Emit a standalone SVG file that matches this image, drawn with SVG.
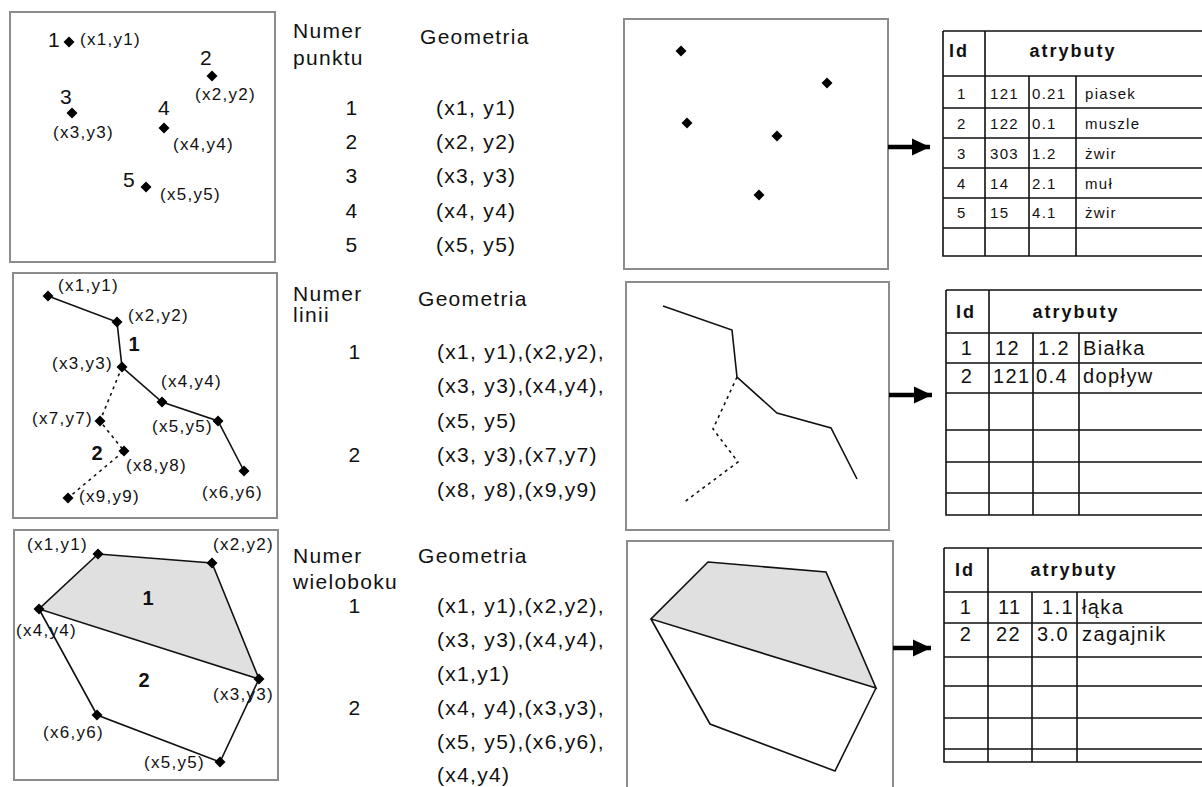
<svg xmlns="http://www.w3.org/2000/svg" width="1202" height="787" viewBox="0 0 1202 787">
<style>
text{font-family:"Liberation Sans",Arial,sans-serif;fill:#111}
.lb{font-size:17px;letter-spacing:1.3px}
.big{font-size:21px;letter-spacing:1.3px}
.bn{font-size:20px;font-weight:bold}
.t1{font-size:15px;letter-spacing:1.3px}
.t2{font-size:20px;letter-spacing:1.4px}
.hd{font-size:18px;font-weight:bold;letter-spacing:2px}
.mid{text-anchor:middle}
.panel{fill:#fff;stroke:#8c8c8c;stroke-width:2}
.ln{fill:none;stroke:#111;stroke-width:1.6;stroke-linejoin:miter}
.dash{fill:none;stroke:#111;stroke-width:1.6;stroke-dasharray:3 4}
.gray{fill:#e0e0e0;stroke:#111;stroke-width:1.6}
.tb{stroke:#111;stroke-width:1.6;fill:none}
.arr{stroke:#000;stroke-width:4.5;fill:none}
</style>
<defs>
<path id="pt" d="M0,-5.5 L5.5,0 L0,5.5 L-5.5,0 Z" fill="#000"/>
<marker id="ah" markerWidth="4" markerHeight="4" refX="3.2" refY="1.5" orient="auto" markerUnits="strokeWidth" viewBox="0 0 3.2 3">
<path d="M0,0 L3.2,1.5 L0,3 Z" fill="#000"/>
</marker>
</defs>
<rect width="1202" height="787" fill="#fff"/>

<g id="points-panel">
<rect class="panel" x="10" y="12" width="265" height="250"/>
<use href="#pt" x="69" y="42"/><use href="#pt" x="212" y="76"/><use href="#pt" x="72" y="113"/><use href="#pt" x="164" y="128"/><use href="#pt" x="146" y="187"/>
<text class="big" x="48" y="47">1</text><text class="lb" x="80" y="45">(x1,y1)</text>
<text class="big" x="200" y="65">2</text><text class="lb" x="195" y="100">(x2,y2)</text>
<text class="big" x="60" y="104">3</text><text class="lb" x="53" y="138">(x3,y3)</text>
<text class="big" x="158" y="115">4</text><text class="lb" x="173" y="150">(x4,y4)</text>
<text class="big" x="123" y="187">5</text><text class="lb" x="160" y="200">(x5,y5)</text>
</g>

<g id="lines-panel">
<rect class="panel" x="13" y="273" width="264" height="245"/>
<polyline class="ln" points="48,296 117,322 122,367 162,402 218,421 244,471"/>
<polyline class="dash" points="122,367 100,421 124,451 68,498"/>
<use href="#pt" x="48" y="296"/><use href="#pt" x="117" y="322"/><use href="#pt" x="122" y="367"/><use href="#pt" x="162" y="402"/><use href="#pt" x="218" y="421"/><use href="#pt" x="244" y="471"/><use href="#pt" x="100" y="421"/><use href="#pt" x="124" y="451"/><use href="#pt" x="68" y="498"/>
<text class="lb" x="58" y="291">(x1,y1)</text>
<text class="lb" x="128" y="321">(x2,y2)</text>
<text class="bn mid" x="134" y="351">1</text>
<text class="lb" x="52" y="369">(x3,y3)</text>
<text class="lb" x="161" y="387">(x4,y4)</text>
<text class="lb" x="32" y="424">(x7,y7)</text>
<text class="lb" x="152" y="432">(x5,y5)</text>
<text class="bn mid" x="97" y="460">2</text>
<text class="lb" x="126" y="471">(x8,y8)</text>
<text class="lb" x="202" y="498">(x6,y6)</text>
<text class="lb" x="79" y="502">(x9,y9)</text>
</g>

<g id="polygons-panel">
<rect class="panel" x="14" y="530" width="264" height="250"/>
<polygon class="gray" points="98,554 212,563 259,679 39,609"/>
<polyline class="ln" points="39,609 97,715 220,762 259,679"/>
<use href="#pt" x="98" y="554"/><use href="#pt" x="212" y="563"/><use href="#pt" x="39" y="609"/><use href="#pt" x="259" y="679"/><use href="#pt" x="97" y="715"/><use href="#pt" x="220" y="762"/>
<text class="lb" x="27" y="550">(x1,y1)</text>
<text class="lb" x="213" y="550">(x2,y2)</text>
<text class="bn mid" x="148" y="605">1</text>
<text class="lb" x="16" y="636">(x4,y4)</text>
<text class="bn mid" x="144" y="687">2</text>
<text class="lb" x="213" y="700">(x3,y3)</text>
<text class="lb" x="43" y="738">(x6,y6)</text>
<text class="lb" x="144" y="768">(x5,y5)</text>
</g>

<g id="points-text">
<text class="big" x="293" y="38">Numer</text>
<text class="big" x="293" y="65">punktu</text>
<text class="big" x="420" y="44">Geometria</text>
<text class="big mid" x="352" y="115">1</text><text class="big" x="436" y="115">(x1, y1)</text>
<text class="big mid" x="352" y="149">2</text><text class="big" x="436" y="149">(x2, y2)</text>
<text class="big mid" x="352" y="183">3</text><text class="big" x="436" y="183">(x3, y3)</text>
<text class="big mid" x="352" y="218">4</text><text class="big" x="436" y="218">(x4, y4)</text>
<text class="big mid" x="352" y="252">5</text><text class="big" x="436" y="252">(x5, y5)</text>
</g>

<g id="lines-text">
<text class="big" x="293" y="301">Numer</text>
<text class="big" x="293" y="322">linii</text>
<text class="big" x="418" y="306">Geometria</text>
<text class="big mid" x="355" y="359">1</text>
<text class="big" x="437" y="359">(x1, y1),(x2,y2),</text>
<text class="big" x="437" y="393">(x3, y3),(x4,y4),</text>
<text class="big" x="437" y="428">(x5, y5)</text>
<text class="big mid" x="355" y="462">2</text>
<text class="big" x="437" y="462">(x3, y3),(x7,y7)</text>
<text class="big" x="437" y="497">(x8, y8),(x9,y9)</text>
</g>

<g id="polygons-text">
<text class="big" x="293" y="563">Numer</text>
<text class="big" x="293" y="589">wieloboku</text>
<text class="big" x="418" y="563">Geometria</text>
<text class="big mid" x="355" y="613">1</text>
<text class="big" x="437" y="613">(x1, y1),(x2,y2),</text>
<text class="big" x="437" y="647">(x3, y3),(x4,y4),</text>
<text class="big" x="437" y="681">(x1,y1)</text>
<text class="big mid" x="355" y="715">2</text>
<text class="big" x="437" y="715">(x4, y4),(x3,y3),</text>
<text class="big" x="437" y="749">(x5, y5),(x6,y6),</text>
<text class="big" x="437" y="782">(x4,y4)</text>
</g>

<g id="points-map">
<rect class="panel" x="624" y="19" width="264" height="250"/>
<use href="#pt" x="681" y="51"/><use href="#pt" x="827" y="83"/><use href="#pt" x="687" y="123"/><use href="#pt" x="777" y="136"/><use href="#pt" x="759" y="195"/>
</g>

<g id="lines-map">
<rect class="panel" x="626" y="282" width="263" height="248"/>
<polyline class="ln" points="663,306 732,330 737,377 777,413 831,428 857,479"/>
<polyline class="dash" points="737,377 713,429 738,462 683,503"/>
</g>

<g id="polygons-map">
<rect class="panel" x="627" y="541" width="266" height="260"/>
<polygon class="gray" points="708,562 826,572 876,688 651,619"/>
<polyline class="ln" points="651,619 710,724 835,771 876,688"/>
</g>

<g id="points-table">
<path class="tb" d="M943,31 H1210 M943,31 V256 H1210 M985,31 V256 M1029,76 V256 M1076,76 V256 M943,76 H1210 M943,108 H1210 M943,138 H1210 M943,168 H1210 M943,198 H1210 M943,228 H1210"/>
<text class="hd" x="949" y="57">Id</text><text class="hd mid" x="1073" y="57">atrybuty</text>
<text class="t1" x="957" y="99">1</text><text class="t1" x="990" y="99">121</text><text class="t1" x="1032" y="99">0.21</text><text class="t1" x="1085" y="99">piasek</text>
<text class="t1" x="957" y="129">2</text><text class="t1" x="990" y="129">122</text><text class="t1" x="1032" y="129">0.1</text><text class="t1" x="1085" y="129">muszle</text>
<text class="t1" x="957" y="159">3</text><text class="t1" x="990" y="159">303</text><text class="t1" x="1032" y="159">1.2</text><text class="t1" x="1085" y="159">żwir</text>
<text class="t1" x="957" y="189">4</text><text class="t1" x="990" y="189">14</text><text class="t1" x="1032" y="189">2.1</text><text class="t1" x="1085" y="189">muł</text>
<text class="t1" x="957" y="218">5</text><text class="t1" x="990" y="218">15</text><text class="t1" x="1032" y="218">4.1</text><text class="t1" x="1085" y="218">żwir</text>
</g>

<g id="lines-table">
<path class="tb" d="M946,290 H1210 M946,290 V515 H1210 M989,290 V515 M1033,333 V515 M1079,333 V515 M946,333 H1210 M946,363 H1210 M946,393 H1210 M946,430 H1210 M946,462 H1210 M946,493 H1210"/>
<text class="hd" x="956" y="318">Id</text><text class="hd mid" x="1076" y="318">atrybuty</text>
<text class="t2 mid" x="967" y="355">1</text><text class="t2" x="995" y="355">12</text><text class="t2" x="1038" y="355">1.2</text><text class="t2" x="1083" y="355">Białka</text>
<text class="t2 mid" x="967" y="383">2</text><text class="t2" x="993" y="383">121</text><text class="t2" x="1036" y="383">0.4</text><text class="t2" x="1083" y="383">dopływ</text>
</g>

<g id="polygons-table">
<path class="tb" d="M944,548 H1210 M944,548 V762 H1210 M988,548 V762 M1032,592 V762 M1077,592 V762 M944,592 H1210 M944,623 H1210 M944,657 H1210 M944,686 H1210 M944,718 H1210 M944,749 H1210"/>
<text class="hd" x="955" y="576">Id</text><text class="hd mid" x="1074" y="576">atrybuty</text>
<text class="t2 mid" x="966" y="614">1</text><text class="t2" x="998" y="614">11</text><text class="t2" x="1042" y="614">1.1</text><text class="t2" x="1082" y="614">łąka</text>
<text class="t2 mid" x="966" y="641">2</text><text class="t2" x="996" y="641">22</text><text class="t2" x="1037" y="641">3.0</text><text class="t2" x="1082" y="641">zagajnik</text>
</g>

<g id="connectors">
<line class="arr" x1="888" y1="147" x2="930" y2="147" marker-end="url(#ah)"/>
<line class="arr" x1="889" y1="395" x2="932" y2="395" marker-end="url(#ah)"/>
<line class="arr" x1="893" y1="648" x2="931" y2="648" marker-end="url(#ah)"/>
</g>
</svg>
